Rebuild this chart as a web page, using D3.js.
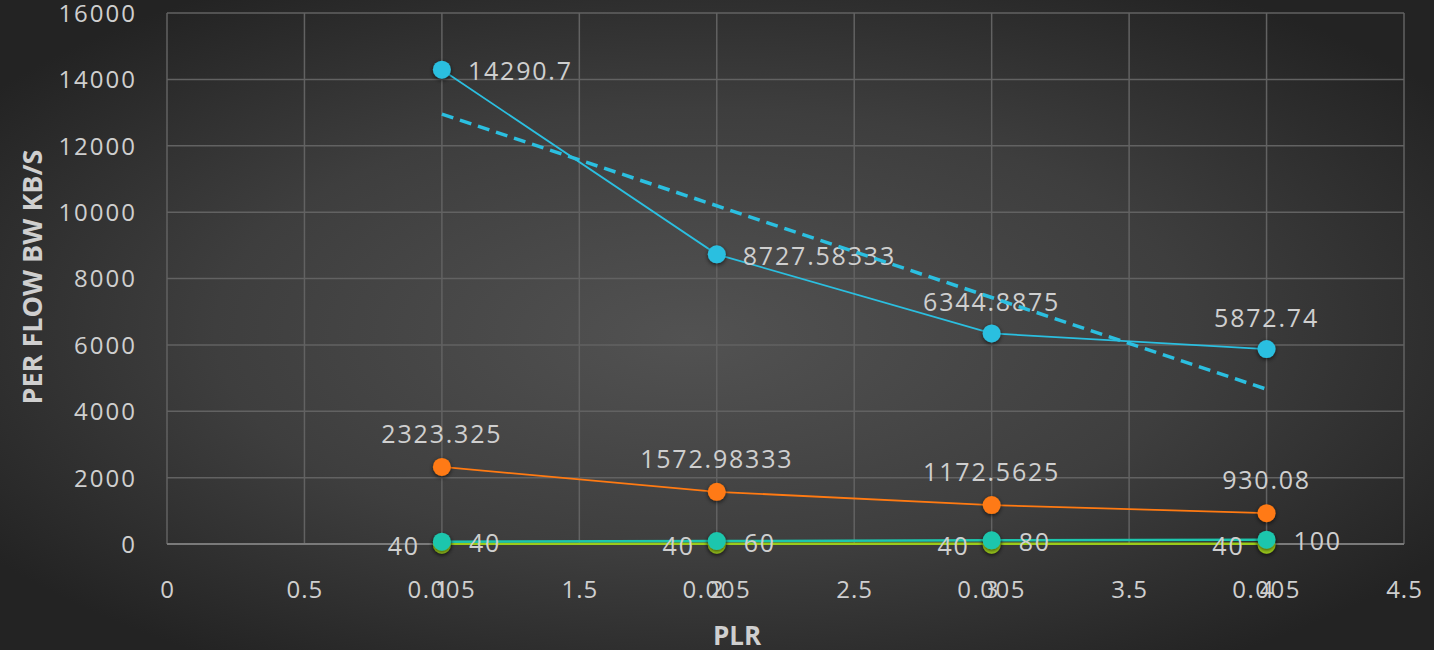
<!DOCTYPE html>
<html>
<head>
<meta charset="utf-8">
<script src="https://cdn.jsdelivr.net/npm/d3@7"></script>
<style>
  html, body { margin: 0; padding: 0; background: #2b2b2b; }
  svg { display: block; }
  text { font-family: "Open Sans", "DejaVu Sans", sans-serif; }
</style>
</head>
<body>
<svg id="chart" width="1434" height="650"></svg>
<script>
// ---------- data ----------
const xValues = [1, 2, 3, 4];
const plrLabels = ["0.005", "0.005", "0.005", "0.005"];
const cyanSeries = [14290.7, 8727.58333, 6344.8875, 5872.74];
const orangeSeries = [2323.325, 1572.98333, 1172.5625, 930.08];
const tealSeries = [40, 60, 80, 100];
const greenSeries = [40, 40, 40, 40];
const xTicks = [0, 0.5, 1, 1.5, 2, 2.5, 3, 3.5, 4, 4.5];
const yTicks = [0, 2000, 4000, 6000, 8000, 10000, 12000, 14000, 16000];
const cyanLabelPos = ["right", "right", "above", "above"];

const W = 1434, H = 650;
const svg = d3.select("#chart");
const defs = svg.append("defs");

// background radial gradient
const rg = defs.append("radialGradient").attr("id", "bg")
  .attr("cx", 0.5).attr("cy", 0.5).attr("r", 0.62)
  .attr("fx", 0.48).attr("fy", 0.52);
rg.append("stop").attr("offset", "0%").attr("stop-color", "#525252");
rg.append("stop").attr("offset", "55%").attr("stop-color", "#3e3e3e");
rg.append("stop").attr("offset", "100%").attr("stop-color", "#232323");
svg.append("rect").attr("width", W).attr("height", H).attr("fill", "url(#bg)");

const shadow = defs.append("filter").attr("id", "shadow")
  .attr("x", "-50%").attr("y", "-50%").attr("width", "200%").attr("height", "200%");
shadow.append("feDropShadow").attr("dx", 0).attr("dy", 1.5).attr("stdDeviation", 2)
  .attr("flood-color", "#000").attr("flood-opacity", 0.65);

const x = d3.scaleLinear().domain([0, 4.5]).range([167, 1404]);
const y = d3.scaleLinear().domain([0, 16000]).range([544, 13]);

const gridColor = "#626262";
const textColor = "#cfcfcf";

// grid
const grid = svg.append("g");
grid.selectAll("line.v").data(xTicks).join("line")
  .attr("x1", d => x(d)).attr("x2", d => x(d))
  .attr("y1", y(16000)).attr("y2", y(0))
  .attr("stroke", gridColor).attr("stroke-width", 1.5);
grid.selectAll("line.h").data(yTicks).join("line")
  .attr("x1", x(0)).attr("x2", x(4.5))
  .attr("y1", d => y(d)).attr("y2", d => y(d))
  .attr("stroke", d => d === 0 ? "#7a7a7a" : gridColor).attr("stroke-width", d => d === 0 ? 2 : 1.5);

// y axis labels
const yAxis = d3.axisLeft(y).tickValues(yTicks).tickSize(0).tickPadding(0).tickFormat(d3.format("d"));
const ya = svg.append("g").attr("transform", "translate(137,0)").call(yAxis);
ya.select(".domain").remove();
ya.selectAll("text").attr("fill", textColor).attr("font-size", 24)
  .attr("letter-spacing", 2).attr("dy", "0.35em");

// x axis labels
const xAxis = d3.axisBottom(x).tickValues(xTicks).tickSize(0).tickPadding(0)
  .tickFormat(d => String(d));
const xa = svg.append("g").attr("transform", "translate(0,590)").call(xAxis);
xa.select(".domain").remove();
xa.selectAll("text").attr("fill", textColor).attr("font-size", 24)
  .attr("dy", "0.35em").attr("letter-spacing", 1);

// category (PLR) labels
svg.append("g").selectAll("text").data(xValues).join("text")
  .attr("x", d => x(d)).attr("y", 590).attr("dy", "0.35em")
  .attr("text-anchor", "middle").attr("font-size", 24).attr("letter-spacing", 1.5)
  .attr("fill", textColor)
  .text((d, i) => plrLabels[i]);

// axis titles
svg.append("text").attr("transform", "translate(33,277) rotate(-90)")
  .attr("text-anchor", "middle").attr("dy", "0.35em")
  .attr("font-size", 27).attr("font-weight", "bold").attr("fill", textColor)
  .text("PER FLOW BW KB/S");
svg.append("text").attr("x", 737).attr("y", 636).attr("dy", "0.35em")
  .attr("text-anchor", "middle")
  .attr("font-size", 26).attr("font-weight", "bold").attr("fill", textColor)
  .text("PLR");

const line = d3.line().x(d => x(d[0])).y(d => y(d[1]));
const pts = arr => xValues.map((xv, i) => [xv, arr[i]]);

function drawSeries(arr, color, width, dy) {
  svg.append("path").datum(pts(arr)).attr("d", line)
    .attr("fill", "none").attr("stroke", color).attr("stroke-width", width)
    .attr("transform", `translate(0,${dy || 0})`);
}
function drawMarkers(arr, color, dy) {
  svg.append("g").selectAll("circle").data(pts(arr)).join("circle")
    .attr("cx", d => x(d[0])).attr("cy", d => y(d[1]) + (dy || 0)).attr("r", 9)
    .attr("fill", color).attr("filter", "url(#shadow)");
}

const cyan = "#2bbfe0", orange = "#ff7a12", teal = "#1cc6ad", green = "#9ccb1a";

drawSeries(cyanSeries, cyan, 1.8);
drawSeries(orangeSeries, orange, 1.8);
drawSeries(greenSeries, green, 2.5, 1);
drawSeries(tealSeries, teal, 2.5, -1);

drawMarkers(greenSeries, green, 2);
drawMarkers(cyanSeries, cyan);
drawMarkers(orangeSeries, orange);
drawMarkers(tealSeries, teal, -1);

// data labels
const lbl = svg.append("g").attr("fill", textColor).attr("font-size", 25).attr("letter-spacing", 1.8);
pts(cyanSeries).forEach((d, i) => {
  const t = lbl.append("text").text(String(cyanSeries[i]));
  if (cyanLabelPos[i] === "right") {
    t.attr("x", x(d[0]) + 26).attr("y", y(d[1]) + 2).attr("dy", "0.35em");
  } else {
    t.attr("x", x(d[0])).attr("y", y(d[1]) - 31).attr("text-anchor", "middle").attr("dy", "0.35em");
  }
});
pts(orangeSeries).forEach((d, i) => {
  lbl.append("text").text(String(orangeSeries[i]))
    .attr("x", x(d[0])).attr("y", y(d[1]) - 33).attr("text-anchor", "middle").attr("dy", "0.35em");
});
pts(tealSeries).forEach((d, i) => {
  lbl.append("text").text(String(tealSeries[i]))
    .attr("x", x(d[0]) + 27).attr("y", y(d[1]) + 1).attr("dy", "0.35em");
});
pts(greenSeries).forEach((d, i) => {
  lbl.append("text").text(String(greenSeries[i]))
    .attr("x", x(d[0]) - 22).attr("y", y(d[1]) + 4).attr("text-anchor", "end").attr("dy", "0.35em");
});

// linear trendline of cyan series (least squares)
const mx = d3.mean(xValues), my = d3.mean(cyanSeries);
const slope = d3.sum(xValues, (xv, i) => (xv - mx) * (cyanSeries[i] - my)) /
              d3.sum(xValues, xv => (xv - mx) ** 2);
const intercept = my - slope * mx;
const xs = d3.extent(xValues);
svg.append("path").datum(xs.map(xv => [xv, intercept + slope * xv])).attr("d", line)
  .attr("fill", "none").attr("stroke", cyan).attr("stroke-width", 3.5)
  .attr("stroke-dasharray", "12,7");
</script>
</body>
</html>
